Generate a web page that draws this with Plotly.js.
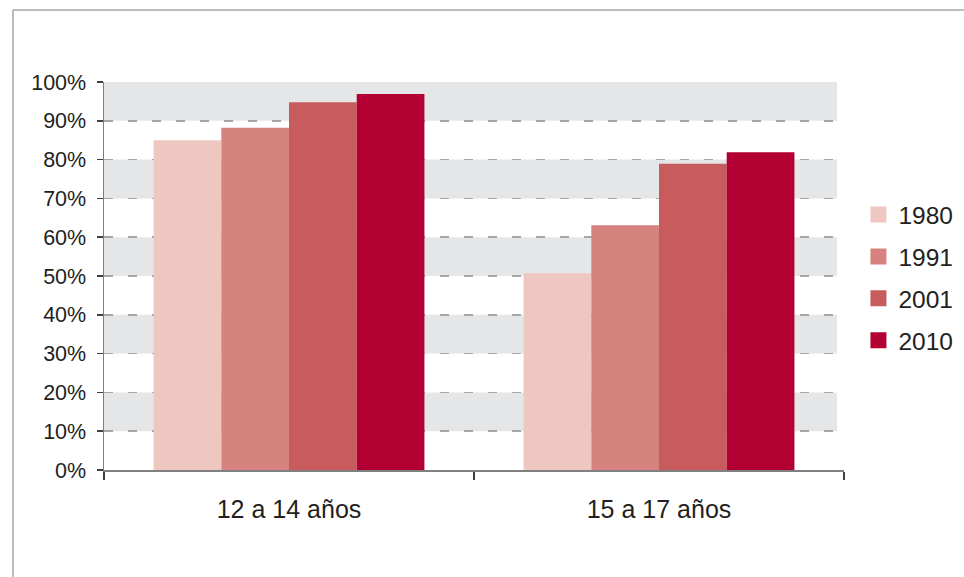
<!DOCTYPE html>
<html>
<head>
<meta charset="utf-8">
<script src="https://cdn.plot.ly/plotly-3.0.1.min.js"></script>
<style>html,body{margin:0;padding:0;background:#fff;}#chart{width:964px;height:577px;}</style>
</head>
<body>
<div id="chart"></div>
<script>
const categories = ["12 a 14 años", "15 a 17 años"];
const years = ["1980", "1991", "2001", "2010"];
const v1980 = [85.0, 50.7];
const v1991 = [88.2, 63.1];
const v2001 = [94.8, 78.9];
const v2010 = [96.9, 81.9];
const yTicks = [0, 10, 20, 30, 40, 50, 60, 70, 80, 90, 100];
const bandStarts = [10, 30, 50, 70, 90];

const seriesValues = [v1980, v1991, v2001, v2010];
const colors = ["#EEC8C0", "#D6837F", "#C85B5E", "#B20033"];

const traces = [];
years.forEach((yr, i) => {
  traces.push({
    type: "bar", x: categories, y: seriesValues[i], name: yr,
    marker: {color: colors[i], line: {width: 0}},
    showlegend: false, hoverinfo: "x+y+name"
  });
});
years.forEach((yr, i) => {
  traces.push({
    type: "scatter", mode: "markers", x: [null], y: [null], name: yr,
    legendgroup: "g" + i,
    marker: {symbol: "square", size: 16, color: colors[i]},
    showlegend: true, hoverinfo: "skip"
  });
});

const shapes = bandStarts.map(b => ({
  type: "rect", xref: "paper", yref: "y", x0: 0, x1: 0.9905, y0: b, y1: b + 10,
  fillcolor: "#E5E6E8", line: {width: 0}, layer: "below"
}));
// outer frame lines
shapes.push({type: "line", xref: "paper", yref: "paper", x0: -0.123, x1: -0.123, y0: -0.28, y1: 1.1856,
  line: {color: "#A6A6A6", width: 1.5}});
shapes.push({type: "line", xref: "paper", yref: "paper", x0: -0.123, x1: 1.17, y0: 1.1856, y1: 1.1856,
  line: {color: "#A6A6A6", width: 1.5}});

const layout = {
  width: 964, height: 577,
  margin: {l: 104, r: 120, t: 82, b: 107, autoexpand: false},
  paper_bgcolor: "#fff", plot_bgcolor: "rgba(0,0,0,0)",
  font: {family: "Liberation Sans, Arial, sans-serif", color: "#231F20"},
  barmode: "group", bargap: 0.268, bargroupgap: 0,
  xaxis: {
    type: "category", showline: true, linecolor: "#808080", linewidth: 1.5,
    ticks: "outside", tickson: "boundaries", ticklen: 8, tickcolor: "#404040", tickwidth: 1.5,
    ticklabelstandoff: 16,
    tickfont: {size: 25, color: "#231F20"}, showgrid: false, zeroline: false, fixedrange: true
  },
  yaxis: {
    range: [0, 100], tickvals: yTicks, ticktext: yTicks.map(t => t + "%"),
    showline: true, linecolor: "#808080", linewidth: 1.5,
    ticks: "outside", ticklen: 6, tickcolor: "#404040", tickwidth: 1.5,
    ticklabelstandoff: 6,
    tickfont: {size: 21.5, color: "#231F20"},
    showgrid: true, gridcolor: "#A6A6A6", gridwidth: 1.5, griddash: "9px,15px",
    zeroline: false, fixedrange: true
  },
  legend: {
    x: 1.0195, xanchor: "left", y: 0.716, yanchor: "top",
    traceorder: "grouped", tracegroupgap: 7,
    font: {size: 24.5, color: "#231F20"}, bgcolor: "rgba(0,0,0,0)", borderwidth: 0
  },
  shapes: shapes
};

Plotly.newPlot("chart", traces, layout, {displayModeBar: false, staticPlot: true});
</script>
</body>
</html>
